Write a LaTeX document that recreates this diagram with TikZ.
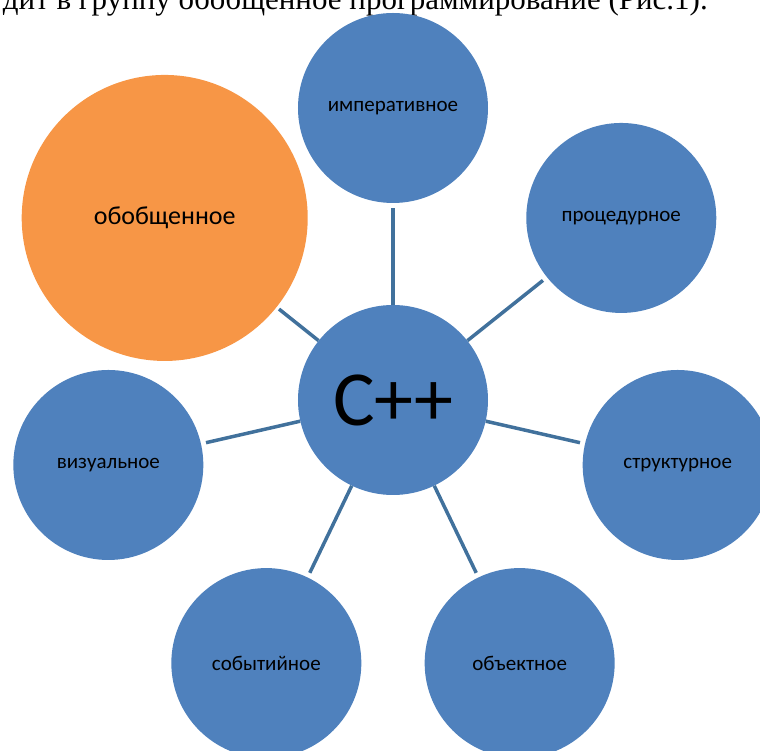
\documentclass[tikz,border=0pt]{standalone}
\usepackage{fontspec}
\setmainfont{Liberation Serif}
\newfontfamily\calibri{Carlito}
\usetikzlibrary{positioning}
\definecolor{circblue}{HTML}{4F81BD}
\definecolor{circorange}{HTML}{F79646}
\definecolor{linkblue}{HTML}{41719C}

\begin{document}
\begin{tikzpicture}[x=1pt, y=1pt,
        kind/.style={circle, fill=circblue, minimum size=190pt, inner sep=0pt, font=\calibri\fontsize{21}{25}\selectfont},
        link/.style={draw=linkblue, line width=3.5pt, shorten >=5pt}]
        \useasboundingbox (-393,-351) rectangle (367,400);

        % Caption line cut by the top edge
        \node (caption) [anchor=base east, inner sep=0pt, font=\fontsize{31}{36}\selectfont] at (315,390.5) {дит в группу обобщенное программирование (Рис.1).};

        % Centre
        \node (cpp) [kind, font=\calibri\fontsize{78}{80}\selectfont] at (0,0) {C++};

        % Kinds of programming around the centre
        \node (imper) [kind] at (90:292) {императивное};
        \node (proc) [kind] at (38.57:292) {процедурное};
        \node (struct) [kind] at (-12.86:292) {структурное};
        \node (object) [kind] at (-64.29:292) {объектное};
        \node (event) [kind] at (-115.71:292) {событийное};
        \node (visual) [kind] at (-167.14:292) {визуальное};
        \node (generic) [kind, fill=circorange, minimum size=286pt, font=\calibri\fontsize{26}{30}\selectfont] at (141.43:292) {обобщенное};

        % Links from the centre
        \draw[link] (cpp) -- (imper);
        \draw[link] (cpp) -- (proc);
        \draw[link] (cpp) -- (struct);
        \draw[link] (cpp) -- (object);
        \draw[link] (cpp) -- (event);
        \draw[link] (cpp) -- (visual);
        \draw[link, shorten >=3pt] (cpp) -- (generic);
    \end{tikzpicture}
\end{document}
